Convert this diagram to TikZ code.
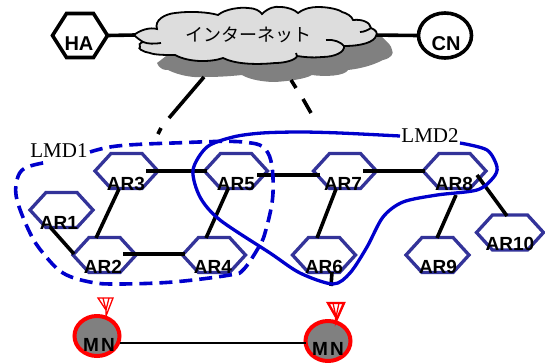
\documentclass[tikz,border=0pt]{standalone}
\usepackage{fontspec}
\usetikzlibrary{shapes.geometric,calc}
\newfontfamily\arialbold{Liberation Sans}
\newfontfamily\serifface{Liberation Serif}
\newfontfamily\cjkfont{Noto Sans CJK JP}
\definecolor{hexblue}{HTML}{333399}
\definecolor{lmdblue}{HTML}{0000CC}
\definecolor{cloudgray}{HTML}{DDDDDD}
\definecolor{shadowgray}{HTML}{808080}
\tikzset{
  hexanchor/.style={rectangle,minimum width=63pt,minimum height=35pt,inner sep=0pt,outer sep=0pt},
  hexline/.style={draw=hexblue,line width=3.3pt,line join=miter},
  blackline/.style={draw=black,line width=3.6pt,fill=white},
  arlabel/.style={font=\arialbold\bfseries\fontsize{19}{19}\selectfont,inner sep=0pt,text=black},
  biglabel/.style={font=\arialbold\bfseries\fontsize{20}{20}\selectfont,inner sep=0pt,text=black},
  lmdlabel/.style={font=\serifface\fontsize{21}{22}\selectfont,inner sep=0pt,text=black},
  linkline/.style={line width=3.6pt,draw=black},
  mnnode/.style={ellipse,draw=red,line width=4pt,fill=shadowgray,minimum width=45pt,minimum height=40pt,inner sep=0pt,outer sep=0pt},
  lmdone/.style={draw=lmdblue,line width=3.6pt,dash pattern=on 13pt off 7pt},
  lmdtwo/.style={draw=lmdblue,line width=3.3pt},
  antenna/.style={draw=red,line width=1.3pt},
  cloudline/.style={draw=black,line width=1.8pt}
}
\newcommand{\hexpath}[2]{%
  (#1.west) -- ([xshift=#2]#1.north west) -- ([xshift=-#2]#1.north east) -- (#1.east)
  -- ([xshift=-#2]#1.south east) -- ([xshift=#2]#1.south west) -- cycle}
\begin{document}
\begin{tikzpicture}[x=1pt,y=-1pt]
\useasboundingbox (0,0) rectangle (545,362);
% shadow
\fill[shadowgray] (157,63) .. controls (160,70) and (165,70) .. (168,70)
  .. controls (180,76) and (195,78) .. (205,77)
  .. controls (220,77) and (232,76) .. (242,75)
  .. controls (250,80) and (265,82) .. (275,82)
  .. controls (290,81) and (305,79) .. (312,75)
  .. controls (325,77) and (345,76) .. (348,70)
  .. controls (365,68) and (375,64) .. (383,60)
  .. controls (392,58) and (394,53) .. (392,50)
  .. controls (391,45) and (388,43) .. (386,41)
  -- (380,35) -- (200,30) -- cycle;
\coordinate (cloudL) at (135,35);
\coordinate (cloudR) at (368,35);
% HA, CN and their links
\node[hexanchor,minimum width=55pt,minimum height=44pt] (ha) at (80,35.5) {};
\draw[blackline] \hexpath{ha}{14pt};
\node[biglabel] (hat) at (79,44) {HA};
\node[ellipse,draw=black,line width=3.6pt,fill=white,minimum width=53pt,minimum height=45pt,inner sep=0pt,outer sep=0pt] (cn) at (445,35.5) {};
\node[biglabel] (cnt) at (446,44) {CN};
\draw[linkline] (ha.east) -- (cloudL);
\draw[linkline] (cloudR) -- (cn.west);
% cloud
\filldraw[fill=cloudgray,cloudline] (134,35)
  .. controls (140,30) and (150,27) .. (157,29)
  .. controls (154,20) and (165,14) .. (175,13)
  .. controls (190,11) and (208,12) .. (218,15)
  .. controls (225,9) and (240,7) .. (248,8)
  .. controls (255,8) and (260,11) .. (262,14)
  .. controls (268,8) and (275,6) .. (280,7)
  .. controls (288,7) and (295,10) .. (298,13)
  .. controls (305,8) and (312,7) .. (318,7)
  .. controls (330,7) and (340,10) .. (342,12)
  .. controls (346,13) and (352,16) .. (353,20)
  .. controls (362,19) and (370,22) .. (371,28)
  .. controls (376,30) and (378,33) .. (376,36)
  .. controls (374,42) and (362,46) .. (344,46)
  .. controls (345,52) and (335,57) .. (322,57)
  .. controls (312,58) and (304,57) .. (297,56)
  .. controls (296,60) and (285,63) .. (275,63)
  .. controls (255,65) and (235,64) .. (223,58)
  .. controls (212,62) and (190,63) .. (175,55)
  .. controls (165,55) and (155,55) .. (150,53)
  .. controls (143,52) and (137,48) .. (140,47)
  .. controls (138,45) and (140,43) .. (143,42)
  .. controls (140,40) and (137,38) .. (134,35) -- cycle;
\draw[cloudline] (143,42) .. controls (148,44) and (154,44) .. (161,43);
\draw[cloudline] (360,32) .. controls (364,32) and (368,30) .. (371,28);
\draw[cloudline] (326,40) .. controls (333,39) and (341,42) .. (344,46);
\draw[cloudline] (297,56) .. controls (297,55) and (297,54) .. (296,53);
\node[font=\cjkfont\fontsize{18}{18}\selectfont,inner sep=0pt] (nettext) at (248,35) {インターネット};
% dashed uplinks
\coordinate (upA) at (204,77);
\coordinate (upB) at (169,118);
\coordinate (upC) at (161,128);
\coordinate (upD) at (158,134);
\draw[linkline] (upA) -- (upB);
\draw[linkline] (upC) -- (upD);
\coordinate (upE) at (291,80);
\coordinate (upF) at (296,88);
\coordinate (upG) at (303,99);
\coordinate (upH) at (311,113);
\draw[linkline] (upE) -- (upF);
\draw[linkline] (upG) -- (upH);
% routers
\foreach \n/\x/\y in {ar1/61.5/210,ar2/104.5/255,ar3/126.5/171,ar4/214/255,ar5/236/171,ar6/324/255,ar7/345/171,ar8/454.5/171,ar9/437.5/255}{
  \node[hexanchor] (\n) at (\x,\y) {};
  \draw[hexline] \hexpath{\n}{16pt};
}
\node[hexanchor,minimum width=67pt] (ar10) at (510,232.5) {};
\draw[hexline] \hexpath{ar10}{16pt};
% links
\draw[linkline] ([shift={(19.5,0)}]ar3.center) -- ([shift={(-29,0)}]ar5.center);
\draw[linkline] ([shift={(21,4)}]ar5.center) -- ([shift={(-25,4)}]ar7.center);
\draw[linkline] ([shift={(18,0)}]ar7.center) -- ([shift={(-29.5,0)}]ar8.center);
\draw[linkline] ([shift={(-7.5,18)}]ar3.center) -- ([shift={(-8.5,-17)}]ar2.center);
\draw[linkline] ([shift={(-8,18)}]ar5.center) -- ([shift={(-8,-17)}]ar4.center);
\draw[linkline] ([shift={(-11.5,17)}]ar1.center) -- ([shift={(-30.5,-1)}]ar2.center);
\draw[linkline] ([shift={(18.5,-1)}]ar2.center) -- ([shift={(-29,-1)}]ar4.center);
\draw[linkline] ([shift={(-9,18)}]ar7.center) -- ([shift={(-7,-17)}]ar6.center);
\draw[linkline] ([shift={(1.5,24)}]ar8.center) -- ([shift={(-0.5,-17)}]ar9.center);
\draw[linkline] ([shift={(22.5,4)}]ar8.center) -- ([shift={(-3,-16.5)}]ar10.center);
\draw[linkline] ([shift={(8,17)}]ar6.center) -- ([shift={(7,31)}]ar6.center);
% LMD regions
\node[lmdlabel] (lmd1) at (59,151) {LMD1};
\node[lmdlabel] (lmd2) at (430,136) {LMD2};
\draw[lmdone] plot[smooth,tension=0.6] coordinates {(90,152) (117,146) (173,143) (243,142) (268,153) (273,193) (265,233) (257,250) (243,270) (230,275) (173,282) (117,284) (90,282) (63,273) (43,253) (30,233) (17,200) (17,180) (25,168) (48,162)};
\draw[lmdtwo] plot[smooth,tension=0.5] coordinates {(400,136) (340,133) (300,132) (262,133) (233,137) (207,147) (193,170) (200,197) (220,220) (270,253) (300,273) (333,284) (350,273) (367,247) (383,217) (403,202) (437,195) (477,190) (493,178) (497,167) (487,150) (460,143)};
% labels
\foreach \n/\t/\x/\y in {ar1/AR1/59/223,ar2/AR2/103/267,ar3/AR3/126/184,ar4/AR4/213/267,ar5/AR5/236/184,ar6/AR6/324/267,ar7/AR7/343/184,ar8/AR8/454/184,ar9/AR9/438/267,ar10/AR10/510/244}
  \node[arlabel] (\n t) at (\x,\y) {\t};
% mobile nodes
\node[mnnode] (mna) at (97,336) {};
\node[mnnode] (mnb) at (328,341) {};
\draw[line width=1.4pt] ([shift={(0,7)}]mna.east) -- ([shift={(0,2)}]mnb.west);
\node[arlabel] (mnat) at (99,345) {M\kern2pt N};
\node[arlabel] (mnbt) at (328,349) {M\kern2pt N};
% antennas
\draw[antenna] ([shift={(9,0)}]mna.north) -- ([shift={(9,-6)}]mna.north)
  -- ([shift={(1,-18)}]mna.north) -- ([shift={(16,-18)}]mna.north) -- cycle;
\draw[antenna] ([shift={(9,-6)}]mna.north) -- ([shift={(6,-18)}]mna.north);
\draw[antenna] ([shift={(9,-6)}]mna.north) -- ([shift={(12,-18)}]mna.north);
\draw[antenna,line width=2.4pt] ([shift={(8,0)}]mnb.north) -- ([shift={(8,-4)}]mnb.north)
  -- ([shift={(0,-18)}]mnb.north) -- ([shift={(16,-18)}]mnb.north) -- cycle;
\draw[antenna] ([shift={(8,-4)}]mnb.north) -- ([shift={(5,-18)}]mnb.north);
\draw[antenna] ([shift={(8,-4)}]mnb.north) -- ([shift={(11,-18)}]mnb.north);
\end{tikzpicture}
\end{document}
